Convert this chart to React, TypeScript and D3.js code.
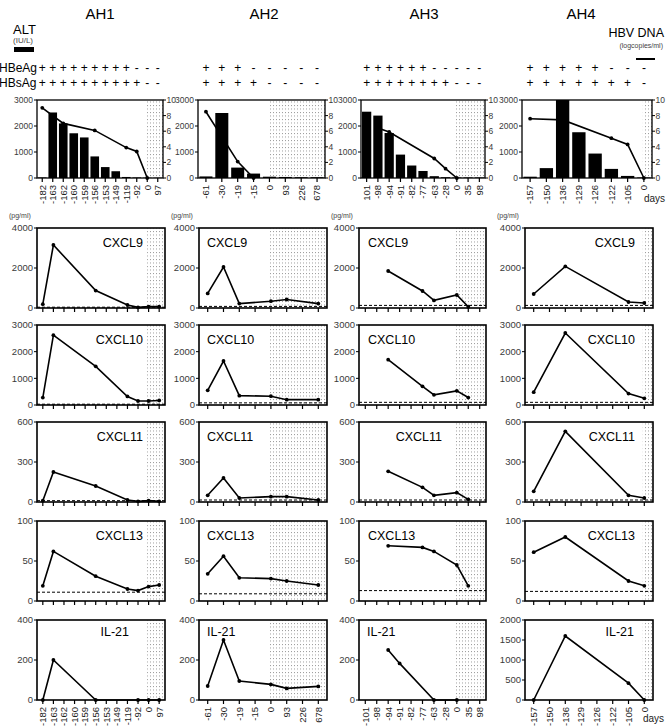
import React from 'react';
import * as d3 from 'd3';

// ---------- data ----------
const PATIENTS = ['AH1', 'AH2', 'AH3', 'AH4'];
const CYTOKINES = ['CXCL9', 'CXCL10', 'CXCL11', 'CXCL13', 'IL-21'];

const AH1_DAYS = ['-182', '-163', '-162', '-160', '-159', '-156', '-153', '-149', '-119', '-92', '0', '97'];
const AH1_TOP_LABELS = AH1_DAYS;
const AH1_ALT = [20, 2520, 2100, 1720, 1560, 830, 420, 260, 40, 20, 10, 10];
const AH1_DNA = [9.0, null, 7.0, null, null, 6.1, null, null, 3.9, 3.4, 0, null];
const AH1_HBEAG = ['+', '+', '+', '+', '+', '+', '+', '+', '+', '-', '-', '-'];
const AH1_HBSAG = ['+', '+', '+', '+', '+', '+', '+', '+', '+', '+', '-', '-'];
const AH1_CXCL9 = [190, 3150, null, null, null, 870, null, null, 150, 30, 70, 70];
const AH1_CXCL10 = [280, 2620, null, null, null, 1450, null, null, 320, 150, 150, 170];
const AH1_CXCL11 = [10, 225, null, null, null, 120, null, null, 15, 5, 10, 5];
const AH1_CXCL13 = [19, 62, null, null, null, 31, null, null, 15, 13, 18, 20];
const AH1_IL21 = [0, 200, null, null, null, 0, null, null, null, 0, 0, 0];

const AH2_DAYS = ['-61', '-30', '-19', '-15', '0', '93', '226', '678'];
const AH2_TOP_LABELS = AH2_DAYS;
const AH2_ALT = [60, 2500, 400, 170, 50, 40, 30, 30];
const AH2_DNA = [8.5, null, 2.1, 0, null, null, null, null];
const AH2_HBEAG = ['+', '+', '+', '-', '-', '-', '-', '-'];
const AH2_HBSAG = ['+', '+', '+', '+', '-', '-', '-', '-'];
const AH2_CXCL9 = [730, 2050, 220, null, 340, 425, null, 220];
const AH2_CXCL10 = [550, 1650, 350, null, 330, 200, null, 200];
const AH2_CXCL11 = [50, 180, 30, null, 40, 40, null, 15];
const AH2_CXCL13 = [34, 56, 29, null, 28, 25, null, 20];
const AH2_IL21 = [70, 300, 95, null, 78, 58, null, 68];

const AH3_DAYS = ['-101', '-98', '-94', '-91', '-82', '-77', '-63', '-28', '0', '35', '98'];
const AH3_TOP_LABELS = ['101', '-98', '-94', '-91', '-82', '-77', '-63', '-28', '0', '35', '98'];
const AH3_ALT = [2550, 2400, 1730, 900, 480, 270, 70, 30, 20, 20, 20];
const AH3_DNA = [null, 6.4, 5.9, null, null, null, 2.5, 1.2, 0, null, null];
const AH3_HBEAG = ['+', '+', '+', '+', '+', '+', '-', '-', '-', '-', '-'];
const AH3_HBSAG = ['+', '+', '+', '+', '+', '+', '+', '+', '-', '-', '-'];
const AH3_CXCL9 = [null, null, 1850, null, null, 850, 380, null, 650, 60, null];
const AH3_CXCL10 = [null, null, 1700, null, null, 700, 380, null, 530, 280, null];
const AH3_CXCL11 = [null, null, 230, null, null, 110, 50, null, 70, 20, null];
const AH3_CXCL13 = [null, null, 69, null, null, 67, 62, null, 45, 19, null];
const AH3_IL21 = [null, null, 250, 183, null, null, 0, null, 0, null, null];

const AH4_DAYS = ['-157', '-150', '-136', '-129', '-126', '-122', '-105', '0'];
const AH4_TOP_LABELS = AH4_DAYS;
const AH4_ALT = [50, 380, 3000, 1760, 940, 350, 80, 20];
const AH4_DNA = [7.6, null, 7.45, null, null, 5.1, 4.3, 0];
const AH4_HBEAG = ['+', '+', '+', '+', '+', '-', '-', '-'];
const AH4_HBSAG = ['+', '+', '+', '+', '+', '+', '+', '-'];
const AH4_CXCL9 = [700, null, 2080, null, null, null, 300, 250];
const AH4_CXCL10 = [480, null, 2700, null, null, null, 430, 250];
const AH4_CXCL11 = [80, null, 530, null, null, null, 50, 30];
const AH4_CXCL13 = [61, null, 80, null, null, null, 25, 19];
const AH4_IL21 = [0, null, 1600, null, null, null, 420, 0];

const CXCL9_LIMIT = [40, 80, 130, 130];
const CXCL10_LIMIT = [30, 80, 100, 100];
const CXCL11_LIMIT = [10, 15, 15, 15];
const CXCL13_LIMIT = [11, 9, 13, 12];
const IL21_LIMIT = [null, null, null, null];

const ALT_TICKS = [0, 1000, 2000, 3000];
const DNA_TICKS = [0, 2, 4, 6, 8, 10];
const CXCL9_TICKS = [0, 2000, 4000];
const CXCL10_TICKS = [0, 1000, 2000, 3000];
const CXCL11_TICKS = [0, 300, 600];
const CXCL13_TICKS = [0, 50, 100];
const IL21_TICKS = [0, 200, 400];
const IL21_AH4_TICKS = [0, 500, 1000, 1500, 2000];

// ---------- assembly ----------
const PATIENT_DATA = [
  { days: AH1_DAYS, top: AH1_TOP_LABELS, alt: AH1_ALT, dna: AH1_DNA, hbeag: AH1_HBEAG, hbsag: AH1_HBSAG,
    cy: [AH1_CXCL9, AH1_CXCL10, AH1_CXCL11, AH1_CXCL13, AH1_IL21] },
  { days: AH2_DAYS, top: AH2_TOP_LABELS, alt: AH2_ALT, dna: AH2_DNA, hbeag: AH2_HBEAG, hbsag: AH2_HBSAG,
    cy: [AH2_CXCL9, AH2_CXCL10, AH2_CXCL11, AH2_CXCL13, AH2_IL21] },
  { days: AH3_DAYS, top: AH3_TOP_LABELS, alt: AH3_ALT, dna: AH3_DNA, hbeag: AH3_HBEAG, hbsag: AH3_HBSAG,
    cy: [AH3_CXCL9, AH3_CXCL10, AH3_CXCL11, AH3_CXCL13, AH3_IL21] },
  { days: AH4_DAYS, top: AH4_TOP_LABELS, alt: AH4_ALT, dna: AH4_DNA, hbeag: AH4_HBEAG, hbsag: AH4_HBSAG,
    cy: [AH4_CXCL9, AH4_CXCL10, AH4_CXCL11, AH4_CXCL13, AH4_IL21] },
];
const LIMITS = [CXCL9_LIMIT, CXCL10_LIMIT, CXCL11_LIMIT, CXCL13_LIMIT, IL21_LIMIT];
const ROW_TICKS = [CXCL9_TICKS, CXCL10_TICKS, CXCL11_TICKS, CXCL13_TICKS, IL21_TICKS];

// ---------- layout ----------
const FONT = 'Liberation Sans, Arial, sans-serif';
const TOP_COLS = [[37, 163], [198, 325], [361, 485], [522, 652]];
const BOT_COLS = [[37, 165], [199, 327], [359, 486], [525, 653]];
const TITLE_X = [100, 264, 424, 581];
const TOP_Y = [100, 178];
const ROW_TOPS = [228, 325, 422, 521, 620];
const ROW_H = 80;
// cytokine label placement per column / row: [anchor, x]
const LABEL_POS: [string, number][][] = [
  [['end', 143], ['end', 143], ['end', 143], ['end', 143], ['end', 129]],
  [['start', 207], ['start', 207], ['start', 207], ['start', 207], ['start', 207]],
  [['start', 368], ['start', 368], ['end', 442], ['start', 368], ['start', 367]],
  [['end', 635], ['end', 635], ['end', 635], ['end', 635], ['end', 634]],
];
const LABEL_DY = [19, 19, 19, 19, 16];
const TICK_FONT = 9.5;
const TICK_COLOR = '#3a3a3a';

function TopPanel({ p, ci }: { p: any; ci: number }) {
  const [x0, x1] = TOP_COLS[ci];
  const [y0, y1] = TOP_Y;
  const x = d3.scaleBand<string>().domain(p.days).range([x0, x1]).paddingInner(0.18).paddingOuter(0.09);
  const xc = (d: string) => (x(d) as number) + x.bandwidth() / 2;
  const yA = d3.scaleLinear().domain([0, 3000]).range([y1, y0]);
  const yD = d3.scaleLinear().domain([0, 10]).range([y1, y0]);
  const sx = xc('0') - 1;
  const pts = p.days.map((d: string, i: number) => [d, p.dna[i]]).filter((e: any) => e[1] != null);
  const line = d3.line<any>().x((e) => xc(e[0])).y((e) => yD(e[1]));
  return (
    <g>
      <rect x={sx} y={y0} width={x1 - sx} height={y1 - y0} fill="url(#stipple)" />
      {p.days.map((d: string, i: number) => (
        <rect key={d} x={x(d)} y={yA(Math.min(p.alt[i], 3000))} width={x.bandwidth()} height={y1 - yA(Math.min(p.alt[i], 3000))} fill="#000" />
      ))}
      <path d={line(pts) || ''} fill="none" stroke="#000" strokeWidth={1.6} />
      {pts.map((e: any) => <circle key={e[0]} cx={xc(e[0])} cy={yD(e[1])} r={1.9} fill="#000" />)}
      <rect x={x0} y={y0} width={x1 - x0} height={y1 - y0} fill="none" stroke="#000" strokeWidth={1.3} />
      {ALT_TICKS.map((t) => (
        <g key={t}>
          <line x1={x0 - 3} x2={x0} y1={yA(t)} y2={yA(t)} stroke="#000" />
          <text x={x0 - 4} y={yA(t)} dy="0.35em" textAnchor="end" fontSize={8.5} fill={TICK_COLOR}>{t}</text>
        </g>
      ))}
      {DNA_TICKS.map((t) => (
        <g key={t}>
          <line x1={x1} x2={x1 + 3} y1={yD(t)} y2={yD(t)} stroke="#000" />
          <text x={x1 + 3.5} y={yD(t)} dy="0.35em" textAnchor="start" fontSize={8.5} fill={TICK_COLOR}>{t}</text>
        </g>
      ))}
      {p.days.map((d: string, i: number) => (
        <g key={d}>
          <line x1={xc(d)} x2={xc(d)} y1={y1} y2={y1 + 4} stroke="#000" strokeWidth={1.2} />
          <text transform={`translate(${xc(d)},${y1 + 7}) rotate(-90)`} dy="0.35em" textAnchor="end" fontSize={TICK_FONT} fill="#222">{p.top[i]}</text>
        </g>
      ))}
      {p.days.map((d: string, i: number) => (
        <g key={'s' + d}>
          <text x={xc(d)} y={72} textAnchor="middle" fontSize={12} fill="#000">{p.hbeag[i]}</text>
          <text x={xc(d)} y={87} textAnchor="middle" fontSize={12} fill="#000">{p.hbsag[i]}</text>
        </g>
      ))}
    </g>
  );
}

function BottomPanel({ p, ci, ri }: { p: any; ci: number; ri: number }) {
  const [x0, x1] = BOT_COLS[ci];
  const y0 = ROW_TOPS[ri];
  const y1 = y0 + ROW_H;
  const x = d3.scalePoint<string>().domain(p.days).range([x0, x1]).padding(0.55);
  const ticks = ri === 4 && ci === 3 ? IL21_AH4_TICKS : ROW_TICKS[ri];
  const y = d3.scaleLinear().domain([0, ticks[ticks.length - 1]]).range([y1, y0]);
  const vals = p.cy[ri];
  const pts = p.days.map((d: string, i: number) => [d, vals[i]]).filter((e: any) => e[1] != null);
  const line = d3.line<any>().x((e) => x(e[0]) as number).y((e) => y(e[1]));
  const sx = (x('0') as number) - 1.5;
  const lim = LIMITS[ri][ci];
  const [anchor, lx] = LABEL_POS[ci][ri];
  return (
    <g>
      <rect x={sx} y={y0} width={x1 - sx} height={y1 - y0} fill="url(#stipple)" />
      {lim != null && (
        <line x1={x0} x2={x1} y1={y(lim)} y2={y(lim)} stroke="#000" strokeWidth={1} strokeDasharray="3,2" />
      )}
      <path d={line(pts) || ''} fill="none" stroke="#000" strokeWidth={1.6} />
      {pts.map((e: any) => <circle key={e[0]} cx={x(e[0])} cy={y(e[1])} r={1.9} fill="#000" />)}
      <rect x={x0} y={y0} width={x1 - x0} height={y1 - y0} fill="none" stroke="#000" strokeWidth={1.6} />
      {ticks.map((t) => (
        <g key={t}>
          <line x1={x0 - 3} x2={x0} y1={y(t)} y2={y(t)} stroke="#000" />
          <text x={x0 - 4} y={y(t)} dy="0.35em" textAnchor="end" fontSize={TICK_FONT} fill={TICK_COLOR}>{t}</text>
        </g>
      ))}
      {p.days.map((d: string) => (
        <g key={d}>
          <line x1={x(d)} x2={x(d)} y1={y1} y2={y1 + 4} stroke="#000" strokeWidth={1.2} />
          {ri === 4 && (
            <text transform={`translate(${x(d)},${y1 + 7}) rotate(-90)`} dy="0.35em" textAnchor="end" fontSize={TICK_FONT} fill="#222">{d}</text>
          )}
        </g>
      ))}
      <text x={lx} y={y0 + LABEL_DY[ri]} textAnchor={anchor as any} fontSize={12.5} fill="#000">{CYTOKINES[ri]}</text>
    </g>
  );
}

export default function App() {
  return (
    <svg width={667} height={728} style={{ position: 'absolute', left: 0, top: 0, background: '#fff' }} fontFamily={FONT}>
      <defs>
        <pattern id="stipple" width={3} height={3.5} patternUnits="userSpaceOnUse">
          <rect x={0} y={0} width={1} height={1} fill="#999" />
        </pattern>
      </defs>
      <rect x={0} y={0} width={667} height={728} fill="#fff" />
      {PATIENTS.map((n, i) => (
        <text key={n} x={TITLE_X[i]} y={19} textAnchor="middle" fontSize={15} fill="#000">{n}</text>
      ))}
      <text x={13} y={34} fontSize={13} fill="#000">ALT</text>
      <text x={13} y={42.5} fontSize={8} fill="#444">(IU/L)</text>
      <rect x={14} y={47} width={20} height={5} fill="#000" />
      <text x={664} y={37} fontSize={12.5} textAnchor="end" fill="#000">HBV DNA</text>
      <text x={663} y={48} fontSize={7} textAnchor="end" fill="#444">(logcopies/ml)</text>
      <rect x={636} y={58} width={19} height={2} fill="#000" />
      <text x={-1} y={72} fontSize={12} fill="#000">HBeAg</text>
      <text x={-1} y={87} fontSize={12} fill="#000">HBsAg</text>
      {PATIENT_DATA.map((p, ci) => (
        <g key={ci}>
          <TopPanel p={p} ci={ci} />
          <text x={BOT_COLS[ci][0] - 28} y={218} fontSize={7} fill="#444">(pg/ml)</text>
          {CYTOKINES.map((c, ri) => <BottomPanel key={c} p={p} ci={ci} ri={ri} />)}
        </g>
      ))}
      <text x={644} y={202} fontSize={10} fill="#222">days</text>
      <text x={643} y={722} fontSize={10} fill="#222">days</text>
    </svg>
  );
}
